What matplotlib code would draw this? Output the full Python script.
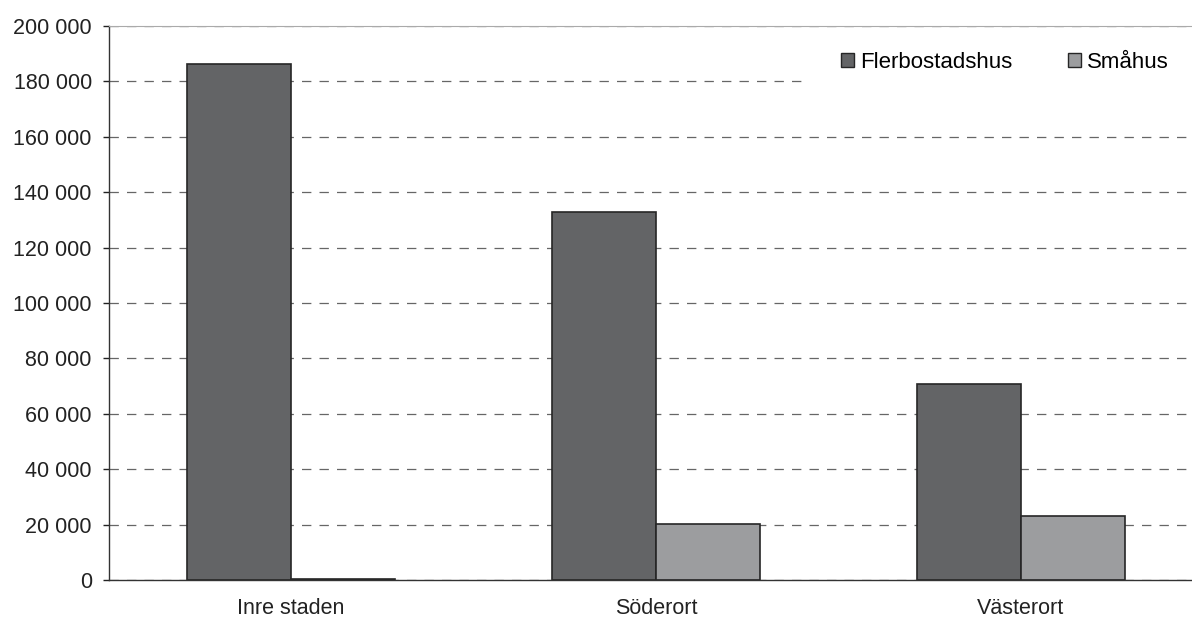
import matplotlib
matplotlib.use('Agg')
import matplotlib.pyplot as plt
from matplotlib.patches import Patch, Rectangle
from matplotlib.ticker import FuncFormatter
import numpy as np

plt.rcParams['font.family'] = ['Liberation Sans', 'DejaVu Sans']

# ============ data ============
categories = ['Inre staden', 'Söderort', 'Västerort']
flerbostadshus = [186300, 132700, 70800]
smahus = [600, 20200, 23300]
series_names = ['Flerbostadshus', 'Småhus']
y_ticks = list(range(0, 200001, 20000))

c_dark = '#636466'
c_light = '#9c9d9f'
c_edge = '#262626'

fig = plt.figure(figsize=(11.92, 6.21), dpi=100)
ax = fig.add_axes([108.5 / 1192, 1 - 580.3 / 621, 1095 / 1192, 554.6 / 621])

x = np.arange(len(categories))
w = 0.285
ax.bar(x - w / 2, flerbostadshus, w, color=c_dark, edgecolor=c_edge, linewidth=1.2, zorder=2)
ax.bar(x + w / 2, smahus, w, color=c_light, edgecolor=c_edge, linewidth=1.2, zorder=2)

ax.set_xlim(-0.5, 2.5)
ax.set_ylim(0, 200000)
ax.set_yticks(y_ticks)
ax.yaxis.set_major_formatter(FuncFormatter(lambda v, p: f'{int(v):,}'.replace(',', ' ')))
ax.set_xticks(x)
ax.set_xticklabels(categories)

ax.tick_params(axis='y', length=4, width=1, pad=8, labelsize=15.5, colors='#222222')
ax.tick_params(axis='x', length=0, pad=13, labelsize=15.5, colors='#222222')

ax.set_axisbelow(True)
ax.yaxis.grid(True, color='#666666', linewidth=0.9, linestyle=(0, (7.5, 6.5)))

for s in ['left', 'bottom']:
    ax.spines[s].set_color('#333333')
    ax.spines[s].set_linewidth(1.0)
ax.spines['top'].set_color('#aaaaaa')
ax.spines['right'].set_visible(False)

# white background behind the legend hides the grid line there
ax.add_patch(Rectangle((0.639, 0.86), 0.4, 0.135, transform=ax.transAxes,
                       facecolor='white', edgecolor='none', zorder=1))

handles = [Patch(facecolor=c_dark, edgecolor=c_edge, linewidth=1.0),
           Patch(facecolor=c_light, edgecolor=c_edge, linewidth=1.0)]
fig.legend(handles, series_names, loc='center left',
           bbox_to_anchor=(841 / 1192, 1 - 62 / 621), ncol=2, frameon=False,
           fontsize=16, handlelength=0.6, handleheight=0.6,
           handletextpad=0.25, columnspacing=2.5, borderpad=0, borderaxespad=0)

fig.savefig('out.png', dpi=100)
